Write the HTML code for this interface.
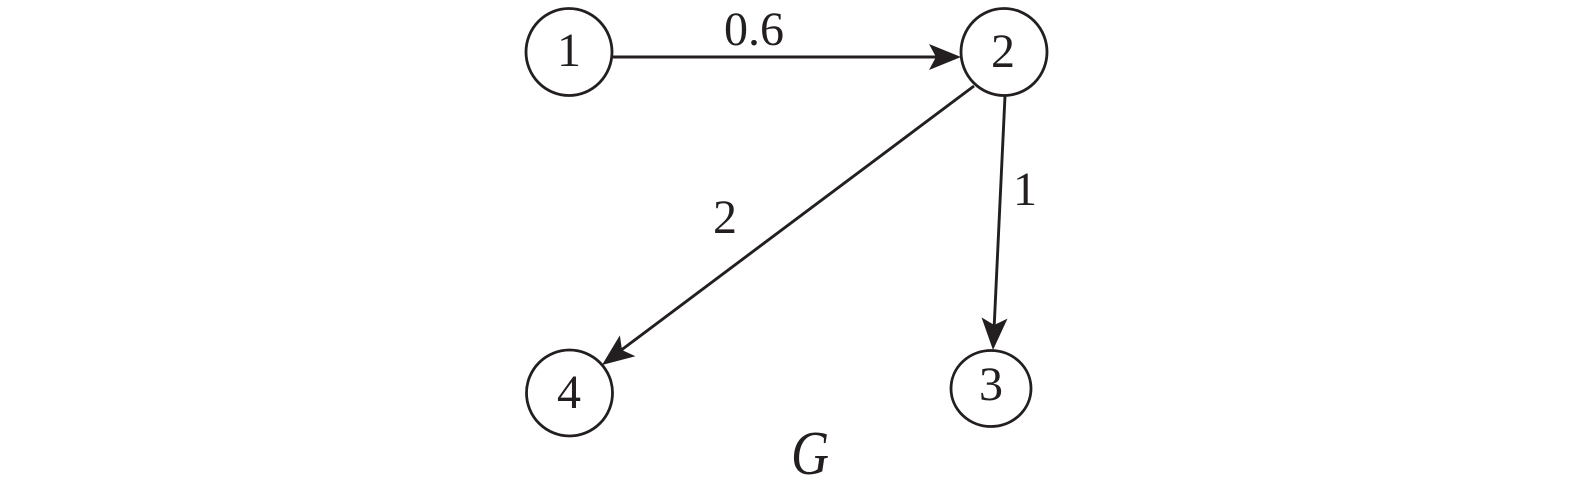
<!DOCTYPE html>
<html>
<head>
<meta charset="utf-8">
<style>
  html, body { margin:0; padding:0; background:#fff; }
  body { width:1575px; height:486px; overflow:hidden; }
  svg { display:block; }
  text { font-family: "Liberation Serif", "DejaVu Serif", serif; fill:#231f20; }
</style>
</head>
<body>
<svg width="1575" height="486" viewBox="0 0 1575 486" xmlns="http://www.w3.org/2000/svg">
  <rect width="1575" height="486" fill="#fff"/>
  <g fill="none" stroke="#231f20" stroke-width="2.8">
    <ellipse cx="569" cy="52" rx="43" ry="43.5"/>
    <ellipse cx="1004" cy="52" rx="43" ry="43.5"/>
    <ellipse cx="569.5" cy="393" rx="43" ry="43"/>
    <ellipse cx="991" cy="388.5" rx="40" ry="38"/>
  </g>
  <g stroke="#231f20" stroke-width="2.9" fill="none">
    <line x1="613" y1="57" x2="940" y2="57"/>
    <line x1="1005" y1="96" x2="994" y2="330"/>
    <line x1="974" y1="86" x2="620" y2="351"/>
  </g>
  <g fill="#231f20">
    <path d="M0 0 L-32 -13 L-25 0 L-32 13 Z" transform="translate(961,57)"/>
    <path d="M0 0 L-32 -13 L-25 0 L-32 13 Z" transform="translate(993,350) rotate(92.7)"/>
    <path d="M0 0 L-32 -13 L-25 0 L-32 13 Z" transform="translate(602,365) rotate(143.2)"/>
  </g>
  <g font-size="48" text-anchor="middle">
    <text x="569" y="66">1</text>
    <text x="1003" y="67">2</text>
    <text x="569" y="408">4</text>
    <text x="991" y="400">3</text>
    <text x="754" y="45">0.6</text>
    <text x="1025" y="205">1</text>
    <text x="725" y="233">2</text>
  </g>
  <text x="810" y="474" font-size="62" font-style="italic" text-anchor="middle" transform="translate(810,474) scale(0.85,1) translate(-810,-474)">G</text>
</svg>
</body>
</html>
